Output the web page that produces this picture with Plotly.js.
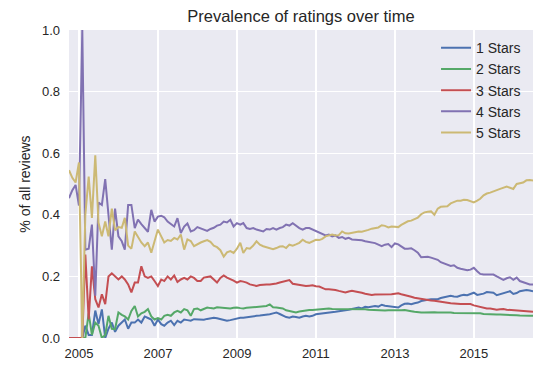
<!DOCTYPE html>
<html>
<head>
<meta charset="utf-8">
<script src="https://cdn.plot.ly/plotly-3.0.1.min.js"></script>
<style>
html,body{margin:0;padding:0;background:#fff;}
#chart{width:555px;height:374px;}
</style>
</head>
<body>
<div id="chart"></div>
<script>
// monthly series, first month 2004-10, last month 2016-07
var startYear = 2004, startMonth = 10, nMonths = 142;
var seriesNames = ["1 Stars", "2 Stars", "3 Stars", "4 Stars", "5 Stars"];
var tickYears = ["2005", "2007", "2009", "2011", "2013", "2015"];

var stars1 = [0,0,0,0,0,
 0.04,0.01,0.01,0.089,0.045,0.093,0.0,0.03,
 0.05,0.02,0.04,0.05,0.06,0.03,0.05,0.05,0.06,0.05,0.07,0.065,0.06,0.04,0.06,
 0.045,0.04,0.05,0.056,0.042,0.056,0.05,0.06,0.058,0.056,0.061,0.061,0.061,0.059,0.062,0.064,0.066,0.064,
 0.062,0.06,0.056,0.058,0.061,0.064,0.066,0.066,0.068,0.07,0.072,0.072,0.073,0.074,0.075,0.077,0.08,0.083,0.078,0.072,0.068,0.066,0.07,0.068,0.066,0.07,0.072,0.07,0.072,0.077,0.078,0.08,0.081,0.083,0.083,0.085,0.087,0.088,0.09,0.092,0.094,0.097,0.099,
 0.096,0.101,0.1,0.102,0.104,0.102,0.108,0.105,0.104,0.102,0.1,0.099,0.106,0.111,0.112,0.11,0.113,0.115,0.12,0.123,0.124,0.126,0.126,0.126,0.13,0.132,0.134,0.137,0.135,0.134,0.138,0.14,0.139,0.143,0.147,0.14,0.141,0.144,0.149,0.149,0.147,0.139,0.142,0.145,0.149,0.152,0.143,0.146,0.152,0.154,0.156,0.154,0.152];

var stars2 = [0,0,0,0,0,
 0.0,0.08,0.01,0.05,0.04,0.0,0.01,0.072,
 0.03,0.029,0.083,0.075,0.07,0.06,0.088,0.104,0.07,0.08,0.085,0.094,0.07,0.06,0.065,
 0.06,0.072,0.075,0.072,0.083,0.088,0.083,0.094,0.09,0.072,0.094,0.096,0.09,0.094,0.099,0.097,0.096,0.1,
 0.099,0.099,0.097,0.096,0.098,0.099,0.097,0.096,0.098,0.099,0.099,0.099,0.101,0.102,0.104,0.109,0.1,0.099,0.097,0.096,0.09,0.088,0.085,0.083,0.086,0.088,0.09,0.091,0.091,0.092,0.093,0.094,0.095,0.096,0.094,0.094,0.095,0.094,0.094,0.094,0.093,0.094,0.094,
 0.094,0.093,0.092,0.091,0.091,0.09,0.089,0.089,0.09,0.09,0.089,0.088,0.09,0.091,0.09,0.087,0.085,0.083,0.083,0.083,0.084,0.085,0.084,0.083,0.083,0.084,0.085,0.083,0.081,0.081,0.081,0.081,0.081,0.081,0.081,0.081,0.08,0.078,0.077,0.076,0.076,0.076,0.076,0.076,0.075,0.074,0.074,0.074,0.073,0.072,0.072,0.072,0.072];

var stars3 = [0,0,0,0,0,
 0.271,0.06,0.233,0.126,0.099,0.142,0.11,0.2,
 0.21,0.2,0.19,0.2,0.19,0.174,0.148,0.18,0.18,0.233,0.2,0.195,0.2,0.185,0.169,
 0.19,0.185,0.2,0.19,0.203,0.182,0.19,0.195,0.19,0.2,0.195,0.185,0.185,0.196,0.198,0.2,0.19,0.18,
 0.195,0.203,0.196,0.192,0.186,0.18,0.185,0.183,0.18,0.174,0.171,0.169,0.172,0.174,0.174,0.174,0.175,0.177,0.18,0.182,0.185,0.188,0.176,0.174,0.171,0.17,0.169,0.17,0.171,0.168,0.167,0.163,0.158,0.158,0.158,0.156,0.153,0.15,0.148,0.151,0.153,0.151,0.15,
 0.147,0.144,0.142,0.14,0.141,0.141,0.142,0.14,0.141,0.142,0.144,0.145,0.142,0.14,0.137,0.134,0.131,0.129,0.127,0.124,0.124,0.122,0.121,0.119,0.117,0.116,0.114,0.113,0.112,0.11,0.11,0.11,0.11,0.11,0.106,0.103,0.1,0.098,0.096,0.096,0.094,0.092,0.093,0.094,0.092,0.091,0.089,0.088,0.087,0.086,0.085,0.085,0.085];

var stars4 = [0.454,0.48,0.497,0.43,1.0,0.287,0.29,0.368,0.137,0.44,0.432,0.516,0.40,
 0.287,0.42,0.33,0.314,0.287,0.432,0.432,0.357,0.384,0.37,0.358,0.345,0.416,0.378,0.394,
 0.397,0.392,0.378,0.37,0.362,0.389,0.341,0.362,0.372,0.346,0.35,0.36,0.356,0.35,0.348,0.354,0.358,0.365,
 0.368,0.378,0.375,0.384,0.362,0.373,0.368,0.373,0.357,0.354,0.357,0.352,0.35,0.346,0.354,0.352,0.357,0.352,0.357,0.36,0.368,0.365,0.373,0.365,0.357,0.352,0.357,0.357,0.352,0.348,0.343,0.338,0.333,0.336,0.33,0.333,0.325,0.328,0.322,0.325,0.32,0.319,0.319,
 0.317,0.314,0.312,0.311,0.308,0.303,0.298,0.303,0.305,0.295,0.307,0.304,0.296,0.29,0.29,0.291,0.285,0.277,0.262,0.264,0.264,0.261,0.258,0.254,0.246,0.242,0.24,0.234,0.236,0.228,0.225,0.222,0.22,0.222,0.228,0.217,0.208,0.206,0.206,0.206,0.206,0.2,0.194,0.189,0.194,0.197,0.189,0.196,0.185,0.182,0.177,0.174,0.174];

var stars5 = [0.545,0.52,0.505,0.57,0.0,0.40,0.524,0.39,0.593,0.374,0.33,0.378,0.33,
 0.42,0.35,0.36,0.358,0.39,0.30,0.29,0.346,0.33,0.31,0.298,0.31,0.277,0.31,0.352,
 0.33,0.31,0.318,0.315,0.325,0.32,0.336,0.287,0.32,0.315,0.298,0.305,0.31,0.314,0.318,0.312,0.3,0.295,
 0.285,0.264,0.278,0.282,0.276,0.29,0.309,0.276,0.292,0.29,0.3,0.314,0.303,0.298,0.295,0.29,0.288,0.292,0.297,0.298,0.292,0.303,0.3,0.304,0.309,0.319,0.312,0.309,0.314,0.319,0.318,0.322,0.33,0.333,0.336,0.333,0.334,0.346,0.34,0.339,0.341,0.343,0.346,
 0.345,0.347,0.351,0.355,0.356,0.359,0.366,0.364,0.359,0.362,0.361,0.36,0.367,0.373,0.379,0.381,0.386,0.391,0.402,0.408,0.41,0.411,0.4,0.42,0.426,0.427,0.428,0.437,0.442,0.446,0.446,0.449,0.448,0.443,0.44,0.446,0.452,0.463,0.469,0.472,0.475,0.48,0.484,0.489,0.492,0.488,0.484,0.5,0.502,0.505,0.512,0.513,0.511];

var months = [];
for (var k = 0; k < nMonths; k++) {
  var m = startMonth - 1 + k;
  var y = startYear + Math.floor(m / 12);
  var mm = (m % 12) + 1;
  months.push(y + "-" + (mm < 10 ? "0" + mm : mm) + "-01");
}

var colors = ["#4C72B0", "#55A868", "#C44E52", "#8172B2", "#CCB974"];
var allSeries = [stars1, stars2, stars3, stars4, stars5];
var traces = allSeries.map(function (s, i) {
  return {x: months, y: s, type: "scatter", mode: "lines", name: seriesNames[i],
          line: {color: colors[i], width: 2}};
});

var font = "Liberation Sans, Arial, sans-serif";
var layout = {
  width: 555, height: 374,
  margin: {l: 69, r: 21.5, t: 30, b: 36, pad: 0},
  paper_bgcolor: "#ffffff",
  plot_bgcolor: "#EAEAF2",
  font: {family: font, size: 13, color: "#262626"},
  title: {text: "Prevalence of ratings over time", x: 0.5, xref: "paper", xanchor: "center",
          y: 1 - 16 / 374, yanchor: "middle", font: {size: 16.5, color: "#262626"}},
  xaxis: {type: "date", range: [months[0], months[nMonths - 1]],
          tickvals: tickYears.map(function (t) { return t + "-01-01"; }), ticktext: tickYears,
          showgrid: true, gridcolor: "#ffffff", gridwidth: 1.3, zeroline: false, showline: false,
          ticks: "", ticklabelstandoff: 6, tickfont: {size: 13}},
  yaxis: {range: [0, 1], tickvals: [0, 0.2, 0.4, 0.6, 0.8, 1.0],
          ticktext: ["0.0", "0.2", "0.4", "0.6", "0.8", "1.0"],
          showgrid: true, gridcolor: "#ffffff", gridwidth: 1.3, zeroline: false, showline: false,
          ticks: "", ticklabelstandoff: 8, tickfont: {size: 13},
          title: {text: "% of all reviews", font: {size: 14}, standoff: 8}},
  legend: {x: 0.791, xanchor: "left", y: 0.993, yanchor: "top", bgcolor: "rgba(0,0,0,0)",
           borderwidth: 0, font: {size: 14}},
  showlegend: true
};
Plotly.newPlot("chart", traces, layout, {displayModeBar: false, staticPlot: true});
</script>
</body>
</html>
